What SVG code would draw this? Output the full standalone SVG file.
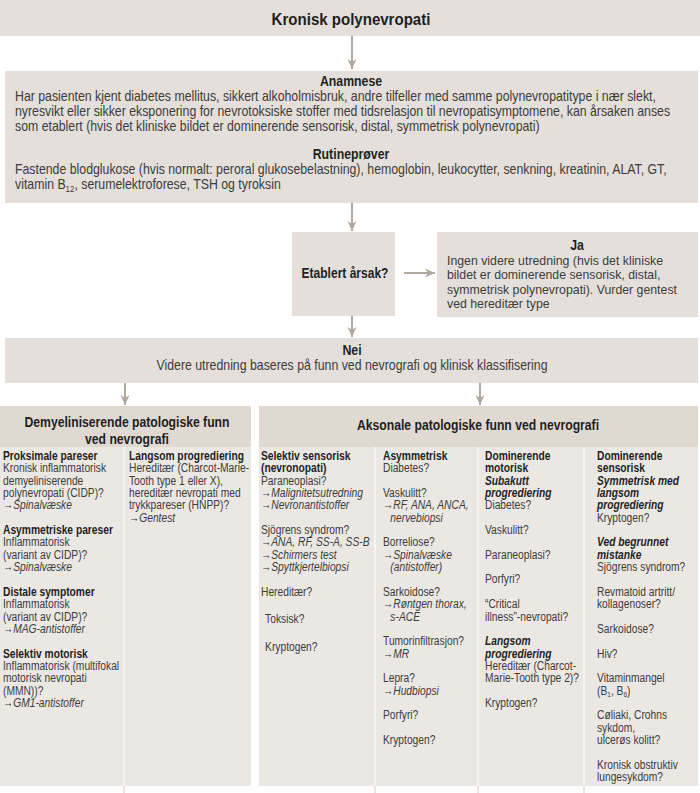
<svg xmlns="http://www.w3.org/2000/svg" width="700" height="793" viewBox="0 0 700 793">
<style>
.box{fill:#e4dfda}
.hdr{fill:#dfd9d2}
.body{fill:#ebe7e3}
.sep{fill:#f6f4f1}
.sepo{fill:#e9e5e1}
.t{font-family:"Liberation Sans",Arial,sans-serif;fill:#3c3c3c}
.up{font-size:14px}
.ja{font-size:12.8px}
.col{font-size:12.5px}
.b{font-weight:bold;fill:#1f1f1f}
.i{font-style:italic}
.c{text-anchor:middle}
.arr{stroke:#b1a89f;stroke-width:2;fill:none}
</style>
<defs>
<marker id="ah" viewBox="0 0 10 10" refX="10" refY="5" markerWidth="10" markerHeight="10" markerUnits="userSpaceOnUse" orient="auto">
<path d="M0,0.5 L10,5 L0,9.5 L3,5 z" fill="#b1a89f"/>
</marker>
</defs>
<rect width="700" height="793" fill="#ffffff"/>

<g id="connectors">
<line class="arr" x1="352" y1="36" x2="352" y2="69" marker-end="url(#ah)"/>
<line class="arr" x1="352" y1="203" x2="352" y2="231" marker-end="url(#ah)"/>
<line class="arr" x1="404" y1="273" x2="435" y2="273" marker-end="url(#ah)"/>
<line class="arr" x1="352" y1="316" x2="352" y2="337" marker-end="url(#ah)"/>
<line class="arr" x1="125" y1="383" x2="125" y2="405" marker-end="url(#ah)"/>
<line class="arr" x1="480" y1="383" x2="480" y2="405" marker-end="url(#ah)"/>
</g>

<g id="title">
<rect class="box" x="0" y="0" width="700" height="36"/>
<g transform="translate(351,0) scale(0.885,1)"><text class="t b c" x="0" y="25" font-size="17">Kronisk polynevropati</text></g>
</g>

<g id="anamnese">
<rect class="box" x="5" y="71" width="693" height="132"/>
<g transform="translate(351,0) scale(0.88,1)"><text class="t up b c" x="0" y="86">Anamnese</text><text class="t up b c" x="0" y="159">Rutineprøver</text></g>
<g transform="translate(15,0) scale(0.88,1)" class="t up">
<text x="0" y="101">Har pasienten kjent diabetes mellitus, sikkert alkoholmisbruk, andre tilfeller med samme polynevropatitype i nær slekt,</text>
<text x="0" y="116">nyresvikt eller sikker eksponering for nevrotoksiske stoffer med tidsrelasjon til nevropatisymptomene, kan årsaken anses</text>
<text x="0" y="131">som etablert (hvis det kliniske bildet er dominerende sensorisk, distal, symmetrisk polynevropati)</text>
<text x="0" y="174">Fastende blodglukose (hvis normalt: peroral glukosebelastning), hemoglobin, leukocytter, senkning, kreatinin, ALAT, GT,</text>
<text x="0" y="189">vitamin B<tspan font-size="9" dy="3">12</tspan><tspan dy="-3">, serumelektroforese, TSH og tyroksin</tspan></text>
</g>
</g>

<g id="etablert">
<rect class="box" x="292" y="232" width="103" height="84"/>
<g transform="translate(345,0) scale(0.86,1)"><text class="t up b c" x="0" y="278">Etablert årsak?</text></g>
</g>

<g id="ja">
<rect class="box" x="437" y="232" width="261" height="85"/>
<g transform="translate(577,0) scale(0.88,1)"><text class="t up b c" x="0" y="250">Ja</text></g>
<g transform="translate(447,0) scale(0.962,1)" class="t ja">
<text x="0" y="265">Ingen videre utredning (hvis det kliniske</text>
<text x="0" y="279.5">bildet er dominerende sensorisk, distal,</text>
<text x="0" y="294">symmetrisk polynevropati). Vurder gentest</text>
<text x="0" y="308.5">ved hereditær type</text>
</g>
</g>

<g id="nei">
<rect class="box" x="5" y="338" width="693" height="45"/>
<g transform="translate(352,0) scale(0.88,1)">
<text class="t up b c" x="0" y="355">Nei</text>
<text class="t up c" x="0" y="370">Videre utredning baseres på funn ved nevrografi og klinisk klassifisering</text>
</g>
</g>

<g id="demyeliniserende">
<rect class="hdr" x="0" y="406" width="251" height="41"/>
<rect class="body" x="0" y="447" width="251" height="339"/>
<rect class="sep" x="123" y="447" width="2" height="339"/>
<rect class="sepo" x="123" y="786" width="2" height="7"/>
<g transform="translate(127,0) scale(0.87,1)">
<text class="t up b c" x="0" y="427">Demyeliniserende patologiske funn</text>
<text class="t up b c" x="0" y="444">ved nevrografi</text>
</g>
<g transform="translate(3,0) scale(0.82,1)" class="t col">
<text class="b" x="0" y="460">Proksimale pareser</text>
<text x="0" y="472.4">Kronisk inflammatorisk</text>
<text x="0" y="484.7">demyeliniserende</text>
<text x="0" y="497.1">polynevropati (CIDP)?</text>
<text x="0" y="509.4">→<tspan class="i">Spinalvæske</tspan></text>
<text class="b" x="0" y="534.1">Asymmetriske pareser</text>
<text x="0" y="546.5">Inflammatorisk</text>
<text x="0" y="558.8">(variant av CIDP)?</text>
<text x="0" y="571.2">→<tspan class="i">Spinalvæske</tspan></text>
<text class="b" x="0" y="595.9">Distale symptomer</text>
<text x="0" y="608.2">Inflammatorisk</text>
<text x="0" y="620.6">(variant av CIDP)?</text>
<text x="0" y="632.9">→<tspan class="i">MAG-antistoffer</tspan></text>
<text class="b" x="0" y="657.6">Selektiv motorisk</text>
<text x="0" y="670">Inflammatorisk (multifokal</text>
<text x="0" y="682.3">motorisk nevropati</text>
<text x="0" y="694.7">(MMN))?</text>
<text x="0" y="707">→<tspan class="i">GM1-antistoffer</tspan></text>
</g>
<g transform="translate(129,0) scale(0.82,1)" class="t col">
<text class="b" x="0" y="460">Langsom progrediering</text>
<text x="0" y="472.4">Hereditær (Charcot-Marie-</text>
<text x="0" y="484.7">Tooth type 1 eller X),</text>
<text x="0" y="497.1">hereditær nevropati med</text>
<text x="0" y="509.4">trykkpareser (HNPP)?</text>
<text x="0" y="521.8">→<tspan class="i">Gentest</tspan></text>
</g>
</g>

<g id="aksonale">
<rect class="hdr" x="259" y="406" width="439" height="41"/>
<rect class="body" x="259" y="447" width="439" height="339"/>
<rect class="sep" x="374" y="447" width="2" height="339"/>
<rect class="sep" x="477" y="447" width="2" height="339"/>
<rect class="sep" x="583" y="447" width="2" height="339"/>
<rect class="sepo" x="374" y="786" width="2" height="7"/>
<rect class="sepo" x="477" y="786" width="2" height="7"/>
<rect class="sepo" x="583" y="786" width="2" height="7"/>
<g transform="translate(478,0) scale(0.87,1)">
<text class="t up b c" x="0" y="430">Aksonale patologiske funn ved nevrografi</text>
</g>
<g transform="translate(261,0) scale(0.82,1)" class="t col">
<text class="b" x="0" y="460">Selektiv sensorisk</text>
<text class="b" x="0" y="472.4">(nevronopati)</text>
<text x="0" y="484.7">Paraneoplasi?</text>
<text x="0" y="497.1">→<tspan class="i">Malignitetsutredning</tspan></text>
<text x="0" y="509.4">→<tspan class="i">Nevronantistoffer</tspan></text>
<text x="0" y="534.1">Sjögrens syndrom?</text>
<text x="0" y="546.5">→<tspan class="i">ANA, RF, SS-A, SS-B</tspan></text>
<text x="0" y="558.8">→<tspan class="i">Schirmers test</tspan></text>
<text x="0" y="571.2">→<tspan class="i">Spyttkjertelbiopsi</tspan></text>
<text x="0" y="595.9">Hereditær?</text>
<text x="5" y="623">Toksisk?</text>
<text x="5" y="651">Kryptogen?</text>
</g>
<g transform="translate(383,0) scale(0.82,1)" class="t col">
<text class="b" x="0" y="460">Asymmetrisk</text>
<text x="0" y="472.4">Diabetes?</text>
<text x="0" y="497.1">Vaskulitt?</text>
<text x="0" y="509.4">→<tspan class="i">RF, ANA, ANCA,</tspan></text>
<text class="i" x="9" y="521.8">nervebiopsi</text>
<text x="0" y="546.5">Borreliose?</text>
<text x="0" y="558.8">→<tspan class="i">Spinalvæske</tspan></text>
<text class="i" x="9" y="571.2">(antistoffer)</text>
<text x="0" y="595.9">Sarkoidose?</text>
<text x="0" y="608.2">→<tspan class="i">Røntgen thorax,</tspan></text>
<text class="i" x="9" y="620.6">s-ACE</text>
<text x="0" y="645.3">Tumorinfiltrasjon?</text>
<text x="0" y="657.6">→<tspan class="i">MR</tspan></text>
<text x="0" y="682.3">Lepra?</text>
<text x="0" y="694.7">→<tspan class="i">Hudbiopsi</tspan></text>
<text x="0" y="719.4">Porfyri?</text>
<text x="0" y="744.1">Kryptogen?</text>
</g>
<g transform="translate(485,0) scale(0.82,1)" class="t col">
<text class="b" x="0" y="460">Dominerende</text>
<text class="b" x="0" y="472.4">motorisk</text>
<text class="b i" x="0" y="484.7">Subakutt</text>
<text class="b i" x="0" y="497.1">progrediering</text>
<text x="0" y="509.4">Diabetes?</text>
<text x="0" y="534.1">Vaskulitt?</text>
<text x="0" y="558.8">Paraneoplasi?</text>
<text x="0" y="583.5">Porfyri?</text>
<text x="0" y="608.2">“Critical</text>
<text x="0" y="620.6">illness”-nevropati?</text>
<text class="b i" x="0" y="645.3">Langsom</text>
<text class="b i" x="0" y="657.6">progrediering</text>
<text x="0" y="670">Hereditær (Charcot-</text>
<text x="0" y="682.3">Marie-Tooth type 2)?</text>
<text x="0" y="707">Kryptogen?</text>
</g>
<g transform="translate(597,0) scale(0.82,1)" class="t col">
<text class="b" x="0" y="460">Dominerende</text>
<text class="b" x="0" y="472.4">sensorisk</text>
<text class="b i" x="0" y="484.7">Symmetrisk med</text>
<text class="b i" x="0" y="497.1">langsom</text>
<text class="b i" x="0" y="509.4">progrediering</text>
<text x="0" y="521.8">Kryptogen?</text>
<text class="b i" x="0" y="546.5">Ved begrunnet</text>
<text class="b i" x="0" y="558.8">mistanke</text>
<text x="0" y="571.2">Sjögrens syndrom?</text>
<text x="0" y="595.9">Revmatoid artritt/</text>
<text x="0" y="608.2">kollagenoser?</text>
<text x="0" y="632.9">Sarkoidose?</text>
<text x="0" y="657.6">Hiv?</text>
<text x="0" y="682.3">Vitaminmangel</text>
<text x="0" y="694.7">(B<tspan font-size="8" dy="2.5">1</tspan><tspan dy="-2.5">, B</tspan><tspan font-size="8" dy="2.5">6</tspan><tspan dy="-2.5">)</tspan></text>
<text x="0" y="719.4">Cøliaki, Crohns</text>
<text x="0" y="731.7">sykdom,</text>
<text x="0" y="744.1">ulcerøs kolitt?</text>
<text x="0" y="768.8">Kronisk obstruktiv</text>
<text x="0" y="781.1">lungesykdom?</text>
</g>
</g>
</svg>
